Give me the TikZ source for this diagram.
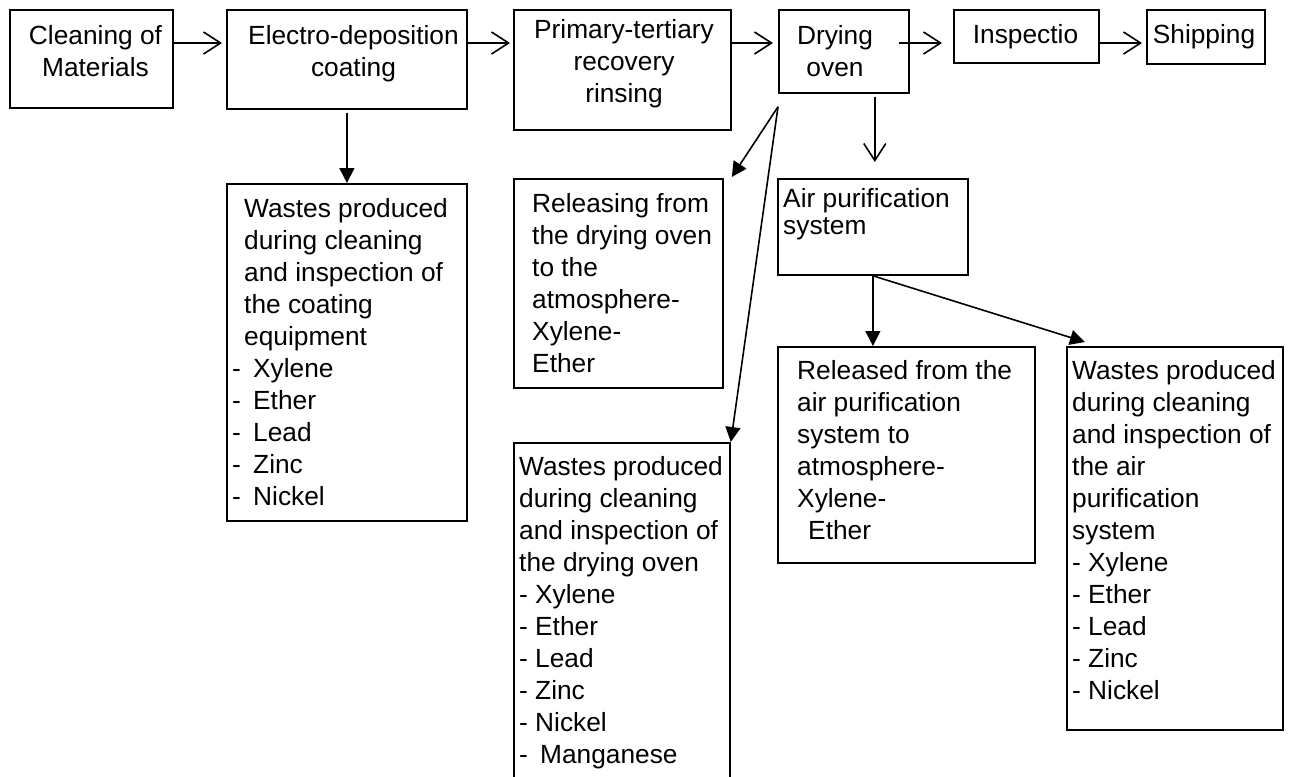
\documentclass[tikz,border=0pt]{standalone}
\usepackage{fontspec}
\setmainfont{Liberation Sans}
\usetikzlibrary{arrows.meta,calc}
\newcommand{\mystr}{\rule{0pt}{22pt}}
\tikzset{
  box/.style={draw, line width=1.8pt, inner sep=0pt, anchor=north west},
  txt/.style={inner sep=0pt, font=\fontsize{26.3}{32}\selectfont},
  openarr/.style={line width=1.6pt, -{Straight Barb[length=17pt,width=22pt]}},
  fillarr/.style={line width=1.6pt, -{Triangle[length=15pt,width=15pt]}},
}
\begin{document}
\begin{tikzpicture}[x=1pt,y=-1pt]
\useasboundingbox (0,0) rectangle (1295,776);
\fill[white] (0,0) rectangle (1295,776);

% boxes
\node[box, minimum width=163pt, minimum height=98pt] (clean) at (9,9) {};
\node[box, minimum width=240pt, minimum height=99pt] (electro) at (226,9) {};
\node[box, minimum width=217pt, minimum height=120pt] (primary) at (513,9) {};
\node[box, minimum width=130pt, minimum height=83pt] (drying) at (778,9) {};
\node[box, minimum width=145pt, minimum height=53pt] (inspect) at (953,9) {};
\node[box, minimum width=118pt, minimum height=54pt] (ship) at (1146,9) {};
\node[box, minimum width=240pt, minimum height=337pt] (wastes1) at (226,183) {};
\node[box, minimum width=209pt, minimum height=209pt] (releasing) at (513,178) {};
\node[box, minimum width=216pt, minimum height=337pt] (wastesdry) at (513,442) {};
\node[box, minimum width=190pt, minimum height=96pt] (air) at (777,178) {};
\node[box, minimum width=257pt, minimum height=216pt] (released) at (777,346) {};
\node[box, minimum width=216pt, minimum height=383pt] (wastesair) at (1066,346) {};

% texts
\node[txt, anchor=north, align=center] (tclean) at (95.5,22) {\mystr Cleaning of\\Materials};
\node[txt, anchor=north, align=center] (telectro) at (353.5,22) {\mystr Electro-deposition\\coating};
\node[txt, anchor=north, align=center] (tprimary) at (624,16) {\mystr Primary-tertiary\\recovery\\rinsing};
\node[txt, anchor=north, align=center] (tdrying) at (835,22) {\mystr Drying\\oven};
\node[txt, anchor=north, align=center] (tinspect) at (1025.5,21) {\mystr Inspectio};
\node[txt, anchor=north, align=center] (tship) at (1204,21) {\mystr Shipping};

\node[txt, anchor=north west, align=left] (twastes1) at (232,195) {%
\mystr\hspace*{12pt}Wastes produced\\
\hspace*{12pt}during cleaning\\
\hspace*{12pt}and inspection of\\
\hspace*{12pt}the coating\\
\hspace*{12pt}equipment\\
\makebox[21pt][l]{-}Xylene\\
\makebox[21pt][l]{-}Ether\\
\makebox[21pt][l]{-}Lead\\
\makebox[21pt][l]{-}Zinc\\
\makebox[21pt][l]{-}Nickel};

\node[txt, anchor=north west, align=left] (treleasing) at (532,190) {%
\mystr Releasing from\\the drying oven\\to the\\atmosphere-\\Xylene-\\Ether};

\node[txt, anchor=north west, align=left] (twastesdry) at (519,453) {%
\mystr Wastes produced\\
during cleaning\\
and inspection of\\
the drying oven\\
\makebox[16pt][l]{-}Xylene\\
\makebox[16pt][l]{-}Ether\\
\makebox[16pt][l]{-}Lead\\
\makebox[16pt][l]{-}Zinc\\
\makebox[16pt][l]{-}Nickel\\
\makebox[21pt][l]{-}Manganese};

\node[txt, anchor=north west, align=left, font=\fontsize{26.3}{27}\selectfont] (tair) at (783,185) {%
\mystr Air purification\\system};

\node[txt, anchor=north west, align=left] (treleased) at (797,357) {%
\mystr Released from the\\air purification\\system to\\atmosphere-\\Xylene-\\\hspace*{11pt}Ether};

\node[txt, anchor=north west, align=left] (twastesair) at (1072,357) {%
\mystr Wastes produced\\
during cleaning\\
and inspection of\\
the air\\
purification\\
system\\
\makebox[16pt][l]{-}Xylene\\
\makebox[16pt][l]{-}Ether\\
\makebox[16pt][l]{-}Lead\\
\makebox[16pt][l]{-}Zinc\\
\makebox[16pt][l]{-}Nickel};

% connectors
\coordinate (row) at (0,43);
\draw[openarr, shorten >=4pt] (clean.east |- row) -- (electro.west |- row);
\draw[openarr, shorten >=3pt] (electro.east |- row) -- (primary.west |- row);
\draw[openarr, shorten >=5pt] (primary.east |- row) -- (drying.west |- row);
\draw[openarr, shorten >=11pt] ($(drying.east |- row)+(-11,0)$) -- (inspect.west |- row);
\draw[openarr, shorten >=4pt] (inspect.east |- row) -- (ship.west |- row);

\draw[fillarr] ($(electro.south)+(0,3)$) -- (wastes1.north);

\coordinate (dd) at ($(drying.south east)+(-35,3)$);
\draw[openarr, shorten >=16pt] (dd) -- (dd |- air.north);

\coordinate (ds) at ($(drying.south west)+(0,13)$);
\draw[fillarr] (ds) -- ($(releasing.north east)+(8,-1)$);
\draw[fillarr] (ds) -- (wastesdry.north east);

\draw[fillarr] (air.south) -- (air.south |- released.north);
\draw[fillarr] (air.south) -- ($(wastesair.north west)+(19,-4)$);
\end{tikzpicture}
\end{document}
